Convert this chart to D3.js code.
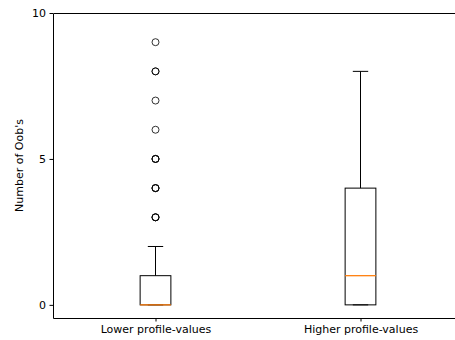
<!DOCTYPE html>
<html>
<head>
<meta charset="utf-8">
<script src="https://cdn.jsdelivr.net/npm/d3@7"></script>
<style>
  body { margin: 0; background: #fff; }
  svg { display: block; }
</style>
</head>
<body>
<script>
  // data
  const categories = ["Lower profile-values", "Higher profile-values"];
  const whiskLow = [0, 0],
        q1 = [0, 0],
        median = [0, 1],
        q3 = [1, 4],
        whiskHigh = [2, 8];
  // repeated values overlap and look bolder
  const fliers = [[3, 3, 3, 4, 4, 4, 5, 5, 5, 6, 7, 8, 8, 9], []];
  const yTicks = [0, 5, 10];

  const width = 455, height = 340;
  const margin = {top: 13, left: 53, bottom: 318};
  const font = "DejaVu Sans, sans-serif", fontSize = 11;

  const svg = d3.select("body").append("svg")
    .attr("width", width)
    .attr("height", height);

  // positions 1 and 2, xlim 0.5..2.5 (figure is cut at the right)
  var x = d3.scaleLinear()
    .domain([0.5, 2.5])
    .range([margin.left, 463]);

  var y = d3.scaleLinear()
    .domain([-0.45, 10])
    .range([margin.bottom, margin.top]);

  const boxW = x(1.15) - x(1);

  svg.append("g")
    .attr("transform", `translate(${margin.left},0)`)
    .call(d3.axisLeft(y).tickValues(yTicks).tickSize(3.5).tickPadding(3.5))
    .attr("font-family", font).attr("font-size", fontSize)
    .call(g => g.select(".domain").remove())
    .call(g => g.selectAll("text").attr("fill", "#000"))
    .call(g => g.selectAll(".tick line").attr("stroke", "#000"));

  svg.append("g")
    .attr("transform", `translate(0,${margin.bottom})`)
    .call(d3.axisBottom(x).tickValues([1, 2]).tickFormat((d, i) => categories[i]).tickSize(3.5).tickPadding(3.5))
    .attr("font-family", font).attr("font-size", fontSize)
    .call(g => g.select(".domain").remove())
    .call(g => g.selectAll("text").attr("fill", "#000"))
    .call(g => g.selectAll(".tick line").attr("stroke", "#000"));

  svg.append("text")
    .attr("transform", `translate(23,${(margin.top + margin.bottom) / 2}) rotate(-90)`)
    .attr("text-anchor", "middle")
    .attr("font-family", font).attr("font-size", fontSize)
    .text("Number of Oob's");

  // spines
  svg.append("path")
    .attr("fill", "none")
    .attr("stroke", "#000")
    .attr("stroke-width", 1)
    .attr("d", `M${width},${margin.top + 0.5}H${margin.left + 0.5}V${margin.bottom + 0.5}H${width}`);

  const g = svg.append("g")
    .selectAll("g")
    .data(categories)
    .join("g");

  g.each(function(d, i) {
    const cx = x(i + 1), el = d3.select(this);
    el.append("line")
      .attr("x1", cx).attr("x2", cx)
      .attr("y1", y(q3[i])).attr("y2", y(whiskHigh[i]))
      .attr("stroke", "#000");
    el.append("line")
      .attr("x1", cx).attr("x2", cx)
      .attr("y1", y(q1[i])).attr("y2", y(whiskLow[i]))
      .attr("stroke", "#000");
    [whiskLow[i], whiskHigh[i]].forEach(v => {
      el.append("line")
        .attr("x1", cx - boxW / 4).attr("x2", cx + boxW / 4)
        .attr("y1", y(v)).attr("y2", y(v))
        .attr("stroke", "#000");
    });
    el.append("rect")
      .attr("x", cx - boxW / 2)
      .attr("y", y(q3[i]))
      .attr("width", boxW)
      .attr("height", y(q1[i]) - y(q3[i]))
      .attr("fill", "none")
      .attr("stroke", "#000");
    el.append("line")
      .attr("x1", cx - boxW / 2).attr("x2", cx + boxW / 2)
      .attr("y1", y(median[i])).attr("y2", y(median[i]))
      .attr("stroke", "#ff7f0e")
      .attr("stroke-width", 1.3);
    el.selectAll("circle")
      .data(fliers[i])
      .join("circle")
        .attr("cx", cx)
        .attr("cy", v => y(v))
        .attr("r", 3.5)
        .attr("fill", "none")
        .attr("stroke", "#000")
        .attr("stroke-width", 1)
        .attr("stroke-opacity", 0.8);
  });
</script>
</body>
</html>
